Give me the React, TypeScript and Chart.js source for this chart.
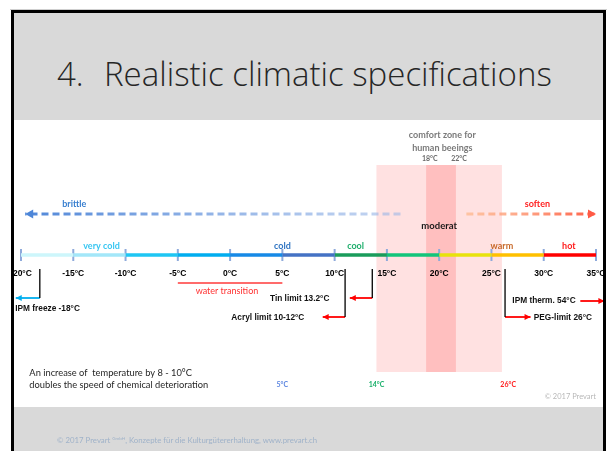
import React, { useEffect, useRef } from 'react';
import { Chart, registerables } from 'chart.js';

Chart.register(...registerables);

// ---------------- data ----------------
const tickValues = [-20, -15, -10, -5, 0, 5, 10, 15, 20, 25, 30, 35];
const tickLabels = ['-20°C', '-15°C', '-10°C', '-5°C', '0°C', '5°C', '10°C', '15°C', '20°C', '25°C', '30°C', '35°C'];
const bandEdges = [-20, -15, -10, -5, 0, 5, 10, 15, 20, 25, 30, 35];
const categoryNames = ['very cold', 'cold', 'cool', 'moderat', 'warm', 'hot'];
const categoryTemps = [-12.3, 5, 12, 20, 26, 32.4];
const comfortZone = [14, 26];
const comfortCore = [18.75, 21.6];
const comfortTitle = ['comfort zone for', 'human beeings'];
const comfortTitleTemp = 20.3;
const comfortCoreLabels = ['18°C', '22°C'];
const comfortCoreLabelTemps = [19.1, 21.9];
const brittleFromTo = [16.3, -19.6];
const softenFromTo = [22.6, 35];
const brittleLabel = 'brittle';
const brittleLabelTemp = -14.9;
const softenLabel = 'soften';
const softenLabelTemp = 29.4;
const waterRange = [-5, 5];
const waterLabel = 'water transition';
const waterLabelTemp = -0.3;
const limitNames = ['IPM freeze -18°C', 'Tin limit 13.2°C', 'Acryl limit 10-12°C', 'PEG-limit 26°C', 'IPM therm. 54°C'];
const limitStarts = [-18.2, 13.6, 11, 26.3, 33.5];
const limitTips = [-20.5, 11.45, 8.86, 28.74, 35.8];
const limitLabelTemps = [-20.55, 9.5, 7.1, 29.05, 27.0];
const deteriorationTemps = [5, 14, 26.6];
const deteriorationLabels = ['5°C', '14°C', '26°C'];
const noteLines = ['An increase of  temperature by 8 - 10°C', 'doubles the speed of chemical deterioration'];
const noteTemp = -19.2;
const copyrightText = '© 2017 Prevart';
const copyrightTemp = 35;

// ---------------- layout / style ----------------
const CW = 589;
const CH = 287;
const ROW = {
  comfort1: 15, comfort2: 28, coreLabels: 39, zoneTop: 45, zoneBottom: 252,
  dashLabel: 84, dash: 94, catLabel: 126, moderat: 106, bar: 135, axis: 149,
  connTop: 149, water: 163, waterLabel: 171, note1: 253, note2: 265, det: 265, copyright: 277,
};
const categoryRows = [ROW.catLabel, ROW.catLabel, ROW.catLabel, ROW.moderat, ROW.catLabel, ROW.catLabel];
const limitArrowRows = [178, 178, 197, 197, 181];
const limitLabelRows = [189, 179, 198, 198, 181];
const limitAligns: CanvasTextAlign[] = ['left', 'right', 'right', 'left', 'left'];
const limitConnector = [true, true, true, true, false];
const limitColors = ['#00aeef', '#ff0000', '#ff0000', '#ff0000', '#ff0000'];

const bandColors = ['#cdf6fb', '#a3e7f9', '#1ec6f3', '#00adef', '#1689e6', '#4472c4', '#1a9c5b', '#12c57a', '#e8e20c', '#ffc000', '#ff0000'];
const categoryColors = ['#38c6f2', '#2f74c2', '#1fae6c', '#1a1a1a', '#c8692a', '#ff1a1a'];
const detColors = ['#5b85e0', '#19b06a', '#ff1a1a'];

const CAL = 'Lato, "Open Sans", sans-serif';
const ARIAL = '"Liberation Sans", Arial, sans-serif';

type TextItem = { text: string; x: number; y: number; align: CanvasTextAlign; font: string; color: string };

function buildTexts(): TextItem[] {
  const t: TextItem[] = [];
  comfortTitle.forEach((s, i) =>
    t.push({ text: s, x: comfortTitleTemp, y: i === 0 ? ROW.comfort1 : ROW.comfort2, align: 'center', font: `bold 9px ${CAL}`, color: '#7a7a7a' }));
  comfortCoreLabels.forEach((s, i) =>
    t.push({ text: s, x: comfortCoreLabelTemps[i], y: ROW.coreLabels, align: 'center', font: `bold 7px ${CAL}`, color: '#6a6a6a' }));
  t.push({ text: brittleLabel, x: brittleLabelTemp, y: ROW.dashLabel, align: 'center', font: `bold 9px ${CAL}`, color: '#3a80d0' });
  t.push({ text: softenLabel, x: softenLabelTemp, y: ROW.dashLabel, align: 'center', font: `bold 9px ${CAL}`, color: '#ff2020' });
  categoryNames.forEach((s, i) =>
    t.push({ text: s, x: categoryTemps[i], y: categoryRows[i], align: 'center', font: `bold ${i === 3 ? 9.5 : 9}px ${CAL}`, color: categoryColors[i] }));
  t.push({ text: waterLabel, x: waterLabelTemp, y: ROW.waterLabel, align: 'center', font: `9px ${CAL}`, color: '#ff3030' });
  limitNames.forEach((s, i) =>
    t.push({ text: s, x: limitLabelTemps[i], y: limitLabelRows[i], align: limitAligns[i], font: `bold 8.3px ${ARIAL}`, color: '#111' }));
  noteLines.forEach((s, i) =>
    t.push({ text: s, x: noteTemp, y: i === 0 ? ROW.note1 : ROW.note2, align: 'left', font: `9.3px ${CAL}`, color: '#1f1f1f' }));
  deteriorationLabels.forEach((s, i) =>
    t.push({ text: s, x: deteriorationTemps[i], y: ROW.det, align: 'center', font: `bold 7px ${CAL}`, color: detColors[i] }));
  t.push({ text: copyrightText, x: copyrightTemp, y: ROW.copyright, align: 'right', font: `7.5px ${CAL}`, color: '#b8b8b8' });
  return t;
}

const zonePlugin = {
  id: 'zones',
  beforeDraw(chart: any) {
    const { ctx, scales } = chart;
    const x = scales.x, y = scales.y;
    const top = y.getPixelForValue(ROW.zoneTop), bot = y.getPixelForValue(ROW.zoneBottom);
    ctx.save();
    ctx.fillStyle = '#ffe1e1';
    const a = x.getPixelForValue(comfortZone[0]), b = x.getPixelForValue(comfortZone[1]);
    ctx.fillRect(a, top, b - a, bot - top);
    ctx.fillStyle = '#ffbfbf';
    const c = x.getPixelForValue(comfortCore[0]), d = x.getPixelForValue(comfortCore[1]);
    ctx.fillRect(c, top, d - c, bot - top);
    ctx.restore();
  },
};

const textPlugin = {
  id: 'texts',
  afterDatasetsDraw(chart: any) {
    const { ctx, scales } = chart;
    const x = scales.x, y = scales.y;
    ctx.save();
    chart.data.datasets.forEach((ds: any, i: number) => {
      if (!ds.arrowHead) return;
      const pts = chart.getDatasetMeta(i).data;
      const a = pts[pts.length - 2], b = pts[pts.length - 1];
      const ang = Math.atan2(b.y - a.y, b.x - a.x);
      const L = ds.arrowHead.len, Wd = ds.arrowHead.half;
      const cs = Math.cos(ang), sn = Math.sin(ang);
      ctx.fillStyle = ds.arrowHead.color;
      ctx.beginPath();
      ctx.moveTo(b.x, b.y);
      ctx.lineTo(b.x - L * cs - Wd * sn, b.y - L * sn + Wd * cs);
      ctx.lineTo(b.x - L * cs + Wd * sn, b.y - L * sn - Wd * cs);
      ctx.closePath();
      ctx.fill();
    });
    ctx.textBaseline = 'middle';
    for (const t of buildTexts()) {
      ctx.font = t.font;
      ctx.fillStyle = t.color;
      ctx.textAlign = t.align;
      ctx.fillText(t.text, x.getPixelForValue(t.x), y.getPixelForValue(t.y));
    }
    ctx.restore();
  },
};

function gradientColor(from: number, to: number, c0: string, c1: string) {
  return (context: any) => {
    const chart = context.chart;
    const xs = chart.scales && chart.scales.x;
    if (!xs || !chart.chartArea) return c0;
    const g = chart.ctx.createLinearGradient(xs.getPixelForValue(from), 0, xs.getPixelForValue(to), 0);
    g.addColorStop(0, c0);
    g.addColorStop(1, c1);
    return g;
  };
}

export default function App() {
  const ref = useRef<HTMLCanvasElement>(null);

  useEffect(() => {
    const canvas = ref.current;
    if (!canvas) return;
    const base = { showLine: true, pointRadius: 0, clip: false, fill: false, borderCapStyle: 'butt' };
    const datasets: any[] = [];

    for (let i = 0; i < bandEdges.length - 1; i++) {
      datasets.push({ ...base, data: [{ x: bandEdges[i], y: ROW.bar }, { x: bandEdges[i + 1], y: ROW.bar }], borderColor: bandColors[i], borderWidth: 3.5 });
    }
    datasets.push({
      ...base, showLine: false, data: tickValues.map((v) => ({ x: v, y: ROW.bar })),
      pointStyle: 'line', pointRotation: 90, pointRadius: 6, pointBorderColor: '#8eaadb', pointBorderWidth: 2,
    });
    datasets.push({
      ...base, data: [{ x: brittleFromTo[0], y: ROW.dash }, { x: brittleFromTo[1], y: ROW.dash }],
      borderDash: [7, 4], borderWidth: 3,
      borderColor: gradientColor(brittleFromTo[1], brittleFromTo[0], 'rgba(70,128,214,0.95)', 'rgba(150,180,230,0.55)'),
      arrowHead: { len: 8, half: 4.5, color: '#4d86d8' },
    });
    datasets.push({
      ...base, data: [{ x: softenFromTo[0], y: ROW.dash }, { x: softenFromTo[1], y: ROW.dash }],
      borderDash: [7, 4], borderWidth: 3,
      borderColor: gradientColor(softenFromTo[0], softenFromTo[1], 'rgba(253,180,130,0.65)', 'rgba(255,85,60,0.95)'),
      arrowHead: { len: 8, half: 4.5, color: '#ff5a45' },
    });
    datasets.push({ ...base, data: [{ x: waterRange[0], y: ROW.water }, { x: waterRange[1], y: ROW.water }], borderColor: '#ff3a3a', borderWidth: 1.4 });
    limitNames.forEach((_, i) => {
      if (limitConnector[i]) {
        datasets.push({ ...base, data: [{ x: limitStarts[i], y: ROW.connTop }, { x: limitStarts[i], y: limitArrowRows[i] }], borderColor: '#000', borderWidth: 1.3 });
      }
      datasets.push({
        ...base, data: [{ x: limitStarts[i], y: limitArrowRows[i] }, { x: limitTips[i], y: limitArrowRows[i] }],
        borderColor: limitColors[i], borderWidth: 1.8,
        arrowHead: { len: 6, half: 3, color: limitColors[i] },
      });
    });

    const chart = new Chart(canvas, {
      type: 'scatter',
      data: { datasets },
      options: {
        animation: false,
        responsive: false,
        maintainAspectRatio: false,
        devicePixelRatio: 1,
        events: [],
        layout: { autoPadding: false, padding: { left: 7, right: 7, top: 0, bottom: 0 } },
        plugins: { legend: { display: false }, tooltip: { enabled: false } },
        scales: {
          x: {
            type: 'linear', min: -20, max: 35,
            position: { y: ROW.axis } as any,
            grid: { display: false, drawTicks: false },
            border: { display: false },
            afterFit: (s: any) => { s.paddingLeft = 0; s.paddingRight = 0; },
            ticks: {
              stepSize: 5, autoSkip: false, maxRotation: 0, minRotation: 0, padding: 0, color: '#000',
              font: { family: ARIAL, size: 8.5, weight: 'bold' },
              callback: (v: any) => {
                const k = tickValues.indexOf(Number(v));
                return k >= 0 ? tickLabels[k] : '';
              },
            },
          },
          y: { type: 'linear', min: 0, max: CH, reverse: true, display: false },
        },
      } as any,
      plugins: [zonePlugin, textPlugin],
    });
    return () => chart.destroy();
  }, []);

  const titleStyle: React.CSSProperties = {
    position: 'absolute', top: 57, fontFamily: '"Open Sans", sans-serif', fontWeight: 300,
    fontSize: 33, lineHeight: 1, color: '#262626', whiteSpace: 'pre',
  };

  return (
    <div style={{ position: 'fixed', left: 0, top: 0, width: 607, height: 451, background: '#fff', overflow: 'hidden' }}>
      <div style={{ position: 'absolute', left: 10, top: 9, width: 597, height: 1, background: '#cfcfcf' }} />
      <div style={{ position: 'absolute', left: 11, top: 10, width: 595, height: 460, background: '#d9d9d9' }} />
      <div style={{ position: 'absolute', left: 14, top: 120, width: 589, height: 287, background: '#fff' }} />
      <div style={{ ...titleStyle, left: 57 }}>4.</div>
      <div style={{ ...titleStyle, left: 104 }}>Realistic climatic specifications</div>
      <canvas ref={ref} width={CW} height={CH} style={{ position: 'absolute', left: 14, top: 120, width: CW, height: CH }} />
      <div style={{ position: 'absolute', left: 11, top: 10, width: 595, height: 460, border: '3px solid #000', boxSizing: 'border-box', pointerEvents: 'none' }} />
      <div style={{ position: 'absolute', left: 57, top: 434, fontFamily: CAL, fontSize: 7.8, color: '#9fb2c9', whiteSpace: 'pre', lineHeight: '12px' }}>
        © 2017 Prevart <sup style={{ fontSize: 4.5, verticalAlign: 'top', position: 'relative', top: -1 }}>GmbH</sup>, Konzepte für die Kulturgütererhaltung, www.prevart.ch
      </div>
    </div>
  );
}
